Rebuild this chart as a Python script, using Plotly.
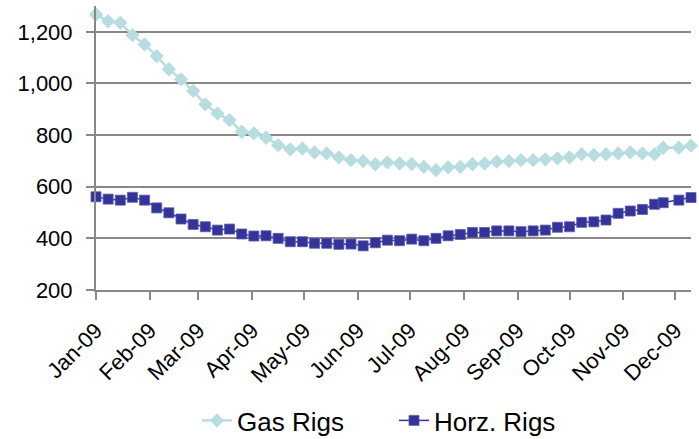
import plotly.graph_objects as go

dates = [
    "2009-01-02", "2009-01-09", "2009-01-16", "2009-01-23", "2009-01-30",
    "2009-02-06", "2009-02-13", "2009-02-20", "2009-02-27",
    "2009-03-06", "2009-03-13", "2009-03-20", "2009-03-27",
    "2009-04-03", "2009-04-10", "2009-04-17", "2009-04-24",
    "2009-05-01", "2009-05-08", "2009-05-15", "2009-05-22", "2009-05-29",
    "2009-06-05", "2009-06-12", "2009-06-19", "2009-06-26",
    "2009-07-03", "2009-07-10", "2009-07-17", "2009-07-24", "2009-07-31",
    "2009-08-07", "2009-08-14", "2009-08-21", "2009-08-28",
    "2009-09-04", "2009-09-11", "2009-09-18", "2009-09-25",
    "2009-10-02", "2009-10-09", "2009-10-16", "2009-10-23", "2009-10-30",
    "2009-11-06", "2009-11-13", "2009-11-20", "2009-11-25",
    "2009-12-04", "2009-12-11",
]

gas_rigs = [
    1267, 1241, 1235, 1187, 1151, 1106, 1055, 1016, 971, 919,
    884, 858, 813, 807, 790, 761, 745, 748, 733, 729,
    714, 703, 699, 687, 694, 690, 688, 677, 664, 675,
    677, 687, 690, 697, 699, 703, 703, 706, 710, 714,
    726, 723, 726, 729, 733, 729, 726, 751, 751, 759,
]

horz_rigs = [
    561, 552, 548, 559, 548, 518, 499, 475, 454, 445,
    432, 436, 417, 409, 410, 400, 387, 387, 381, 381,
    377, 378, 371, 383, 393, 391, 397, 391, 400, 410,
    415, 423, 423, 429, 429, 426, 429, 432, 443, 445,
    462, 464, 471, 497, 506, 512, 532, 538, 548, 558,
]

tick_dates = [
    "2009-01-02", "2009-02-02", "2009-03-02", "2009-04-02", "2009-05-02", "2009-06-02",
    "2009-07-02", "2009-08-02", "2009-09-02", "2009-10-02", "2009-11-02", "2009-12-02",
]
tick_labels = ["Jan-09", "Feb-09", "Mar-09", "Apr-09", "May-09", "Jun-09",
               "Jul-09", "Aug-09", "Sep-09", "Oct-09", "Nov-09", "Dec-09"]
y_ticks = [200, 400, 600, 800, 1000, 1200]

GAS = "#B7DDE0"
HORZ = "#333399"
GRID = "#888888"
FONT = "Liberation Sans, Arial, sans-serif"

fig = go.Figure()
fig.add_trace(go.Scatter(
    x=dates, y=gas_rigs, name="Gas Rigs", mode="lines+markers",
    line=dict(color=GAS, width=2.5),
    marker=dict(symbol="diamond", size=11, color=GAS),
    cliponaxis=False,
))
fig.add_trace(go.Scatter(
    x=dates, y=horz_rigs, name="Horz. Rigs", mode="lines+markers",
    line=dict(color=HORZ, width=1.5),
    marker=dict(symbol="square", size=10, color=HORZ,
                line=dict(color="#5a5ab0", width=0.8)),
    cliponaxis=False,
))

fig.update_layout(
    width=699, height=439,
    margin=dict(l=96, r=8, t=6, b=149, autoexpand=False),
    paper_bgcolor="white", plot_bgcolor="white",
    font=dict(family=FONT, size=22, color="#000000"),
    showlegend=True,
    legend=dict(orientation="h", x=197 / 699, xanchor="left", xref="container",
                y=1 - 397 / 439, yanchor="top", yref="container",
                font=dict(size=26), entrywidth=152, entrywidthmode="pixels"),
    xaxis=dict(
        type="date", range=["2009-01-02", "2009-12-11"],
        tickvals=tick_dates, ticktext=tick_labels, tickangle=-45,
        showgrid=False, showline=True, linecolor=GRID, linewidth=2,
        ticks="outside", ticklen=8, tickcolor=GRID, tickwidth=2,
        zeroline=False, tickfont=dict(size=22), automargin=False,
        ticklabelstandoff=9,
    ),
    yaxis=dict(
        range=[200, 1300], tickvals=y_ticks, tickformat=",",
        showgrid=True, gridcolor=GRID, gridwidth=1.5,
        showline=True, linecolor=GRID, linewidth=2,
        ticks="outside", ticklen=8, tickcolor=GRID, tickwidth=2,
        zeroline=False, ticklabelstandoff=9, tickfont=dict(size=22),
        automargin=False,
    ),
)

fig.write_html("out.html", config={"displayModeBar": False},
               post_script="document.body.style.margin='0';document.body.style.overflow='hidden';")
